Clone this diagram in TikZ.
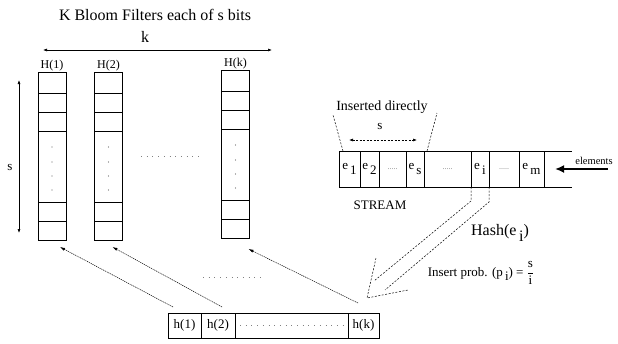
\documentclass[tikz,border=0pt]{standalone}
\usepackage{fontspec}
\setmainfont{Liberation Serif}
\usetikzlibrary{arrows.meta, positioning}

\newcommand{\lowsub}[1]{\,\raisebox{-0.75ex}{#1}}

\begin{document}
\begin{tikzpicture}[x=1pt, y=-1pt,
    col/.style={rectangle, draw, line width=0.6pt, minimum width=28pt, minimum height=168pt, inner sep=0pt, outer sep=0pt},
    cell/.style={rectangle, draw, line width=0.6pt, minimum height=36pt, inner sep=0pt, outer sep=0pt, font=\fontsize{13}{13}\selectfont},
    hcell/.style={rectangle, draw, line width=0.6pt, minimum height=25pt, inner sep=0pt, outer sep=0pt, font=\fontsize{13}{13}\selectfont},
    gapcell/.style={cell, font=\fontsize{8}{8}\selectfont, text=gray},
    arr/.style={{Latex[length=4pt,width=3pt]}-{Latex[length=4pt,width=3pt]}, line width=0.6pt},
    darr/.style={{Latex[length=4pt,width=3pt]}-{Latex[length=4pt,width=3pt]}, line width=0.6pt, dash pattern=on 2pt off 1.5pt},
    hasharr/.style={-{Latex[length=5pt,width=3pt]}, line width=0.5pt, dash pattern=on 1.2pt off 0.8pt},
    brk/.style={line width=0.5pt, dash pattern=on 2pt off 1.5pt},
    sparse/.style={line width=0.7pt, gray, dash pattern=on 0.7pt off 5pt},
    lbl/.style={font=\fontsize{13}{13}\selectfont},
    biglbl/.style={font=\fontsize{16}{16}\selectfont},
    collbl/.style={font=\fontsize{12}{12}\selectfont, inner sep=1pt}
]
\useasboundingbox (0,0) rectangle (618,343);

% bloom filters
\node[biglbl] (title) at (155,15) {K Bloom Filters each of s bits};
\node[biglbl] (klbl) at (145,37) {k};
\coordinate (kleft) at (43,50);
\coordinate (kright) at (272,50);
\draw[arr] (kleft) -- (kright);

\node[col] (colone) at (52,156) {};
\node[col] (coltwo) at (108.5,156) {};
\node[col] (colk) at (235.5,154) {};
\node[collbl, above=0pt of colone] (Hone) {H(1)};
\node[collbl, above=0pt of coltwo] (Htwo) {H(2)};
\node[collbl, above=0pt of colk] (Hk) {H(k)};
\foreach \c in {colone, coltwo, colk} {
  \foreach \d in {21,40,59,130,149}
    \draw[line width=0.6pt] ([yshift=-\d pt]\c.north west) -- ([yshift=-\d pt]\c.north east);
  \foreach \d in {75,90,104,118}
    \fill[black!60] ([yshift=-\d pt]\c.north) circle (0.7pt);
}
\draw[sparse] (141,156) -- (199,156);

\coordinate (stop) at (19,80);
\coordinate (sbot) at (19,233);
\draw[arr] (stop) -- (sbot);
\node[lbl] (slbl) at (10,167) {s};

% stream
\node[cell, minimum width=21pt, anchor=west] (eone) at (339,169) {e\lowsub{1}};
\node[cell, minimum width=19pt, right=0pt of eone] (etwo) {e\lowsub{2}};
\node[gapcell, minimum width=27pt, right=0pt of etwo] (gapone) {.....};
\node[cell, minimum width=18pt, right=0pt of gapone] (es) {e\lowsub{s}};
\node[gapcell, minimum width=47pt, right=0pt of es] (gaptwo) {.....};
\node[cell, minimum width=18pt, right=0pt of gaptwo] (ei) {e\lowsub{i}};
\node[gapcell, minimum width=30pt, right=0pt of ei] (gapthree) {.....};
\node[cell, minimum width=25pt, right=0pt of gapthree] (em) {e\lowsub{m}};
\coordinate (opentop) at (572,151);
\coordinate (openbot) at (572,187);
\draw[line width=0.6pt] (em.north east) -- (opentop);
\draw[line width=0.6pt] (em.south east) -- (openbot);

\coordinate (elemtail) at (608,169);
\coordinate (elemtip) at (555,169);
\draw[line width=2.5pt, -{Latex[length=9pt,width=8pt]}] (elemtail) -- (elemtip);
\node[font=\fontsize{10.5}{10.5}\selectfont] (elem) at (594,161) {elements};
\node[lbl] (stream) at (380,205) {STREAM};

\node[font=\fontsize{14}{14}\selectfont] (insdir) at (382,107) {Inserted directly};
\coordinate (brkl) at (333,115);
\coordinate (brkr) at (437,113);
\draw[brk] ([xshift=4pt]eone.north west) -- (brkl);
\draw[brk] ([xshift=3pt]es.north east) -- (brkr);
\coordinate (sleft) at (349,140);
\coordinate (sright) at (417,140);
\draw[darr] (sleft) -- (sright);
\node[lbl] (sdir) at (380,126) {s};

% hollow arrow
\coordinate (shaftl) at (471,201);
\coordinate (shaftr) at (489,202);
\coordinate (shaftlend) at (374,281);
\coordinate (shaftrend) at (385,290);
\coordinate (headl) at (376,258);
\coordinate (headtip) at (367,298);
\coordinate (headr) at (408,290);
\draw[brk] (ei.south west) -- (shaftl) -- (shaftlend);
\draw[brk] (ei.south east) -- (shaftr) -- (shaftrend);
\draw[brk] (headl) -- (headtip) -- (headr);
\node[biglbl] (hash) at (500,233) {Hash(e\lowsub{i})};
\node[lbl, inner sep=1pt] (prob) at (481,273) {Insert prob. (p\lowsub{i}) = $\displaystyle\frac{\mbox{s}}{\mbox{i}}$};

% hash functions
\node[hcell, minimum width=33pt, anchor=west] (hone) at (168,325.5) {h(1)};
\node[hcell, minimum width=34pt, right=0pt of hone] (htwo) {h(2)};
\node[hcell, minimum width=113pt, right=0pt of htwo] (hgap) {};
\node[hcell, minimum width=31pt, right=0pt of hgap] (hk) {h(k)};
\draw[sparse] ([xshift=5pt]hgap.west) -- ([xshift=-3pt]hgap.east);

\draw[hasharr] ([shift={(5,-6)}]hone.north west) -- ([shift={(-6,7)}]colone.south east);
\draw[hasharr] ([shift={(21,-6)}]htwo.north west) -- ([shift={(-10,7)}]coltwo.south east);
\draw[hasharr] ([shift={(10,-10)}]hk.north west) -- ([shift={(-1,11)}]colk.south east);
\draw[sparse] (203,277) -- (262,277);
\end{tikzpicture}
\end{document}
